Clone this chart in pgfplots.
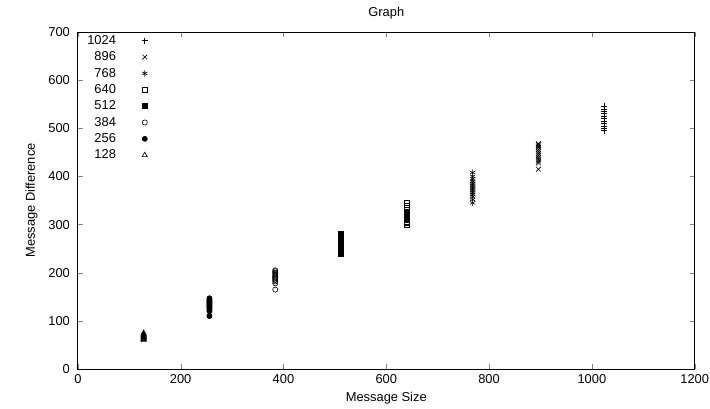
\documentclass[border=0pt]{standalone}
\usepackage{fontspec}
\setmainfont{Liberation Sans}
\usepackage{pgfplots}
\pgfplotsset{compat=1.18}

\begin{document}
\begin{tikzpicture}
\begin{axis}[
    scale only axis,
    width=503pt,
    height=275pt,
    xmin=0, xmax=1200,
    ymin=0, ymax=700,
    xtick={0,200,...,1200},
    ytick={0,100,...,700},
    title={Graph},
    title style={yshift=1pt},
    xlabel={Message Size},
    ylabel={Message Difference},
    ylabel shift=2pt,
    font=\fontsize{10.5}{12}\selectfont,
    tick label style={font=\fontsize{10.5}{12}\selectfont},
    yticklabel style={xshift=-3pt},
    xticklabel style={yshift=-1pt},
    /pgf/number format/assume math mode=true,
    /pgf/number format/1000 sep={},
    tick align=inside,
    major tick length=4pt,
    axis line style={line width=0.6pt},
    legend style={at={(0.005,1.005)}, anchor=north west, draw=none, fill=none,
        font=\fontsize{10.5}{12}\selectfont, row sep=0.5pt, column sep=19pt},
    legend plot pos=right,
    legend cell align=right,
    every axis plot/.append style={only marks, black, mark size=2.3pt, line width=0.5pt},
]
\addplot[mark=+, mark size=2.5pt] coordinates {(1024,495) (1024,500) (1024,505) (1024,510) (1024,515) (1024,520) (1024,525) (1024,530) (1024,535) (1024,540) (1024,545)};
\addlegendentry{1024}
\addplot[mark=x, mark size=2.8pt] coordinates {(896,415) (896,428) (896,432) (896,436) (896,440) (896,444) (896,448) (896,452) (896,456) (896,460) (896,463) (896,466) (896,468)};
\addlegendentry{896}
\addplot[mark=asterisk, mark size=2.5pt] coordinates {(768,345) (768,352) (768,358) (768,362) (768,366) (768,370) (768,374) (768,378) (768,382) (768,386) (768,390) (768,395) (768,400) (768,408)};
\addlegendentry{768}
\addplot[mark=square, mark size=2pt] coordinates {(640,300) (640,303) (640,306) (640,309) (640,312) (640,315) (640,318) (640,322) (640,326) (640,330) (640,335) (640,340) (640,345)};
\addlegendentry{640}
\addplot[mark=square*, mark size=2pt] coordinates {(512,240) (512,243) (512,246) (512,249) (512,252) (512,255) (512,258) (512,261) (512,264) (512,267) (512,270) (512,273) (512,276) (512,280)};
\addlegendentry{512}
\addplot[mark=o, mark size=2.1pt] coordinates {(384,165) (384,178) (384,182) (384,185) (384,188) (384,190) (384,192) (384,195) (384,198) (384,200) (384,203) (384,205)};
\addlegendentry{384}
\addplot[mark=*, mark size=2.1pt] coordinates {(256,110) (256,120) (256,123) (256,126) (256,128) (256,130) (256,132) (256,134) (256,136) (256,138) (256,140) (256,142) (256,144) (256,147)};
\addlegendentry{256}
\addplot[mark=triangle, mark size=2.4pt] coordinates {(128,60) (128,62) (128,63) (128,64) (128,65) (128,66) (128,67) (128,68) (128,69) (128,70) (128,71) (128,72) (128,73) (128,75)};
\addlegendentry{128}
\end{axis}
\pgfresetboundingbox
\path ([xshift=-63.5pt,yshift=-31.8pt]current axis.south west) rectangle ([xshift=12.5pt,yshift=26pt]current axis.north east);
\end{tikzpicture}
\end{document}
